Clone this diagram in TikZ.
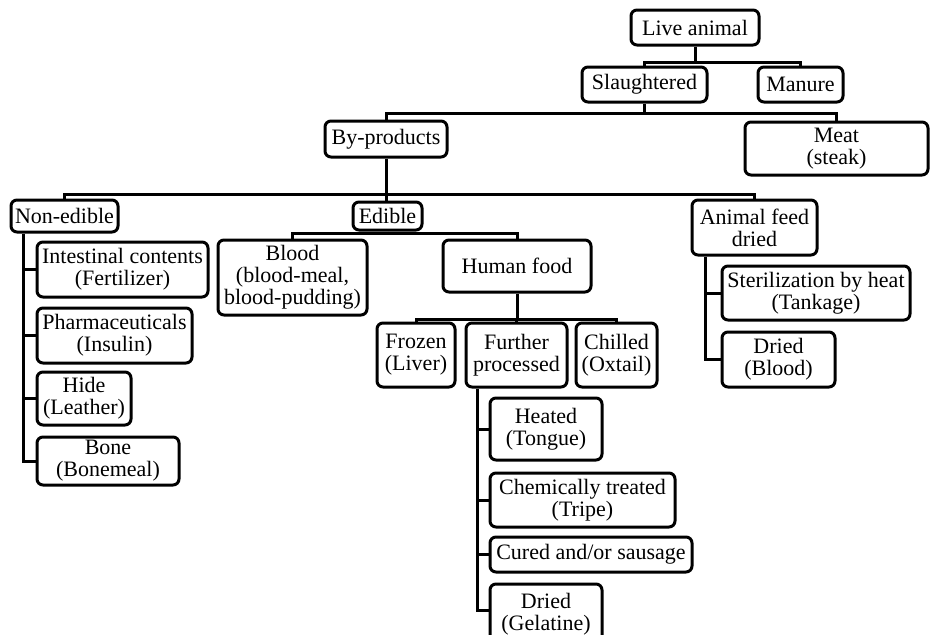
\documentclass[tikz,border=0pt]{standalone}
\usepackage{fontspec}
\setmainfont{Liberation Serif}
\begin{document}
\begin{tikzpicture}[x=1pt,y=-1pt,
  bx/.style={draw, line width=3pt, rounded corners=6pt, inner sep=0pt, align=center,
    font=\fontsize{22}{22}\selectfont},
  ln/.style={line width=3pt}]
\clip (0,0) rectangle (930,635);
\useasboundingbox (0,0) rectangle (930,635);
% boxes
\node[bx, minimum width=128pt, minimum height=35pt] (live) at (695,27.5) {Live animal};
\node[bx, minimum width=125pt, minimum height=35pt] (slaught) at (644.5,84.5) {Slaughtered};
\node[bx, minimum width=85pt, minimum height=35pt] (manure) at (800.5,84.5) {Manure};
\node[bx, minimum width=183pt, minimum height=53pt] (meat) at (836.5,148.5) {Meat\\(steak)};
\node[bx, minimum width=122pt, minimum height=36pt] (byprod) at (386,139) {By-products};
\node[bx, minimum width=107pt, minimum height=32pt] (nonedible) at (64.5,216) {Non-edible};
\node[bx, minimum width=69pt, minimum height=28pt] (edible) at (387.5,216) {Edible};
\node[bx, minimum width=125pt, minimum height=55pt] (feed) at (754.5,227.5) {Animal feed\\dried};
\node[bx, minimum width=171pt, minimum height=55pt] (intest) at (122.5,269.5) {Intestinal contents\\(Fertilizer)};
\node[bx, minimum width=155pt, minimum height=55pt] (pharma) at (114.5,335.5) {Pharmaceuticals\\(Insulin)};
\node[bx, minimum width=94pt, minimum height=53pt] (hide) at (84,398.5) {Hide\\(Leather)};
\node[bx, minimum width=142pt, minimum height=48pt] (bone) at (108,461) {Bone\\(Bonemeal)};
\node[bx, minimum width=149pt, minimum height=75pt] (blood) at (292.5,277.5) {Blood\\(blood-meal,\\blood-pudding)};
\node[bx, minimum width=148pt, minimum height=52pt] (human) at (517,266) {Human food};
\node[bx, minimum width=78pt, minimum height=64pt] (frozen) at (416,355) {Frozen\\(Liver)};
\node[bx, minimum width=101pt, minimum height=64pt] (further) at (516.5,355) {Further\\processed};
\node[bx, minimum width=81pt, minimum height=64pt] (chilled) at (616.5,355) {Chilled\\(Oxtail)};
\node[bx, minimum width=112pt, minimum height=62pt] (heated) at (546,429) {Heated\\(Tongue)};
\node[bx, minimum width=185pt, minimum height=54pt] (chem) at (582.5,500) {Chemically treated\\(Tripe)};
\node[bx, minimum width=202pt, minimum height=35pt] (cured) at (591,554.5) {Cured and/or sausage};
\node[bx, minimum width=112pt, minimum height=60pt] (gel) at (546,614) {Dried\\(Gelatine)};
\node[bx, minimum width=188pt, minimum height=54pt] (steril) at (816,293) {Sterilization by heat\\(Tankage)};
\node[bx, minimum width=113pt, minimum height=55pt] (dblood) at (778.5,359.5) {Dried\\(Blood)};
% bus levels
\coordinate (b1) at (0,62);
\coordinate (b2) at (0,113);
\coordinate (b3) at (0,194);
\coordinate (b4) at (0,233);
\coordinate (b5) at (0,319);
\coordinate (v1) at (23,0);
\coordinate (v2) at (705,0);
\coordinate (v3) at (477,0);
% connectors
\draw[ln] (live.south) -- (live.south |- b1);
\draw[ln] (slaught.north) |- (b1 -| manure.north) -- (manure.north);
\draw[ln] (slaught.south) -- (slaught.south |- b2);
\draw[ln] (byprod.north) |- (b2 -| meat.north) -- (meat.north);
\draw[ln] (byprod.south) -- (byprod.south |- edible.north);
\draw[ln] (nonedible.north) |- (b3 -| feed.north) -- (feed.north);
\draw[ln] (edible.south) -- (edible.south |- b4);
\draw[ln] (blood.north) |- (b4 -| human.north) -- (human.north);
\draw[ln] (human.south) -- (human.south |- b5);
\draw[ln] (frozen.north) |- (b5 -| chilled.north) -- (chilled.north);
\draw[ln] (further.north) -- (further.north |- b5);
% side trees
\draw[ln] (v1 |- nonedible.south) |- (bone.west);
\draw[ln] (v1 |- intest.west) -- (intest.west);
\draw[ln] (v1 |- pharma.west) -- (pharma.west);
\draw[ln] (v1 |- hide.west) -- (hide.west);
\draw[ln] (v2 |- feed.south) |- (dblood.west);
\draw[ln] (v2 |- steril.west) -- (steril.west);
\draw[ln] (v3 |- further.south) |- (v3 |- 0,610) -- (gel.west |- 0,610);
\draw[ln] (v3 |- heated.west) -- (heated.west);
\draw[ln] (v3 |- chem.west) -- (chem.west);
\draw[ln] (v3 |- cured.west) -- (cured.west);
\end{tikzpicture}
\end{document}
